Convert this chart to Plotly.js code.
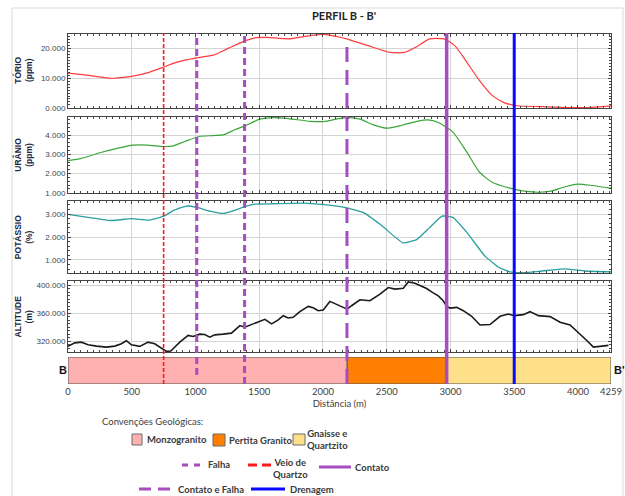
<!DOCTYPE html>
<html><head><meta charset="utf-8">
<script src="https://cdn.plot.ly/plotly-3.0.1.min.js"></script>
<style>html,body{margin:0;padding:0;background:#fff}</style>
</head><body><div id="chart" style="width:625px;height:496px"></div>
<script>
// ---- data ----
const thDist = [0,131,341,496,636,753,832,916,1011,1140,1252,1387,1477,1561,1729,1897,2009,2093,2186,2346,2528,2640,2738,2836,2948,3032,3130,3228,3327,3425,3523,3719,3915,4083,4259];
const thorium = [11.7,11.1,10.0,10.6,12.0,13.8,15.1,16.1,16.9,17.8,20.0,22.6,23.7,23.8,23.3,24.4,24.8,24.2,23.3,21.1,18.7,18.7,20.7,23.3,23.3,21.1,15.3,9.2,4.2,1.7,0.7,0.4,0.1,0.1,0.7];

const uDist = [0,103,243,384,510,622,753,818,916,1028,1140,1224,1308,1387,1505,1617,1729,1897,2009,2121,2205,2290,2402,2500,2626,2738,2822,2906,2968,3018,3130,3228,3327,3467,3579,3691,3789,3887,3999,4111,4259];
const uranium = [2.67,2.79,3.07,3.31,3.48,3.48,3.41,3.43,3.67,3.93,3.98,4.03,4.28,4.48,4.83,4.91,4.86,4.72,4.71,4.86,4.91,4.83,4.52,4.36,4.53,4.72,4.79,4.66,4.40,4.17,3.10,2.07,1.55,1.24,1.09,1.03,1.09,1.29,1.45,1.38,1.24];

const kDist = [0,131,341,496,636,753,832,930,1011,1112,1224,1308,1387,1463,1617,1841,2009,2177,2318,2458,2626,2738,2836,2934,3018,3130,3270,3383,3467,3579,3719,3887,4055,4259];
const potassium = [2.99,2.88,2.72,2.80,2.74,2.91,3.17,3.35,3.29,3.13,3.03,3.17,3.32,3.43,3.45,3.48,3.41,3.28,3.06,2.51,1.75,1.90,2.41,2.91,2.86,2.19,1.17,0.67,0.48,0.45,0.52,0.61,0.52,0.48];

const altDist = [0,53,105,157,223,301,367,419,458,497,563,628,680,733,772,806,877,942,981,1034,1073,1112,1151,1217,1282,1348,1387,1452,1505,1544,1597,1649,1688,1727,1766,1819,1884,1923,1962,2002,2054,2107,2159,2190,2224,2290,2368,2447,2512,2564,2630,2669,2721,2774,2813,2852,2904,2943,2970,2996,3049,3101,3166,3232,3310,3389,3454,3501,3571,3624,3689,3781,3860,3938,4016,4069,4121,4173,4239];
const altitude = [313,318,319,315.3,313.4,312,313.4,316.7,321,315.3,313,319,316.7,310.6,305.9,306.4,319,328.5,327,330.4,329.9,326.1,329.4,330.4,331.8,342.6,340.2,345,348.2,351.5,345,350.6,356.7,353.4,354.4,362.4,369.9,368,363.8,364.7,377,373,368.5,366,370.8,379.3,377.9,387.3,396.7,394.4,395.8,404.7,402.8,398.1,395.3,390.6,384.9,377.9,369.9,367.5,368.5,363.8,355.8,343.5,344,355.8,359.1,356.7,358.1,362.4,356.7,355.3,347.3,343.5,330.8,321.4,312,312.9,314.4];

const unitNames = ['Monzogranito','Pertita Granito','Gnaisse e Quartzito'];
const unitStart = [0, 2190, 2970];
const unitEnd = [2190, 2970, 4259];

const featureNames = ['Veio de Quartzo','Falha','Falha','Contato e Falha','Contato','Drenagem'];
const featureDist = [750, 1010, 1385, 2188, 2970, 3500];

const xTicks = [0,500,1000,1500,2000,2500,3000,3500,4000,4259];
const panelTitles = ['TÓRIO<br>(ppm)','URÂNIO<br>(ppm)','POTÁSSIO<br>(%)','ALTITUDE<br>(m)'];

// ---- styles ----
const unitColors = ['#ffb0b0','#ff8000','#ffe08a'];
const featureStyle = {
  'Veio de Quartzo': {color:'#ff1a1a', width:1.6, dash:'4px,2px'},
  'Falha': {color:'#a64dbf', width:3, dash:'7px,4px'},
  'Contato e Falha': {color:'#a64dbf', width:3, dash:'15px,8px'},
  'Contato': {color:'#a64dbf', width:3.5, dash:'solid'},
  'Drenagem': {color:'#0a0aff', width:3, dash:'solid'}
};
const W=625, H=496, ML=68, MR=14;
const px = p => (p-ML)/(W-ML-MR);
const py = p => 1 - p/H;
const panelPx = [[33.5,108],[116.5,193],[201,273.3],[281,352]];

const tickFont = {family:'Liberation Sans, Arial, sans-serif', size:8, color:'#3c4656'};
const titleFont = {family:'Liberation Sans, Arial, sans-serif', size:8.5, color:'#1c2742', weight:'bold'};

function xax(i, show){
  return {domain:[0,1], range:[0,4259], anchor:'y'+(i===1?'':i), matches: i===1?undefined:'x',
    showline:true, linecolor:'#444', linewidth:1, mirror:'allticks',
    ticks: show?'':'inside', ticklen:3, tickcolor:'#444', tickvals:xTicks,
    showticklabels:show, tickfont:tickFont, showgrid:!show, gridcolor:'#d4d4d4', gridwidth:1,
    minor: show?undefined:{ticks:'inside', dtick:50, ticklen:2, tickcolor:'#444', showgrid:false},
    zeroline:false, fixedrange:true};
}
function yax(i, rng, tv, mdt){
  const p = panelPx[i-1];
  return {domain:[py(p[1]),py(p[0])], range:rng, anchor:'x'+(i===1?'':i), tickvals:tv, tickformat:'.3f',
    showline:true, linecolor:'#444', linewidth:1, mirror:'allticks', ticks:'inside', ticklen:3, tickcolor:'#444',
    minor:{ticks:'inside', dtick:mdt, ticklen:2, tickcolor:'#444', showgrid:false},
    showgrid:true, gridcolor:'#d4d4d4', gridwidth:1, zeroline:false, tickfont:tickFont, fixedrange:true};
}

const traces = [
  {x:thDist, y:thorium, xaxis:'x', yaxis:'y', mode:'lines', line:{color:'#ff3b3b', width:1.2, shape:'spline', smoothing:0.6}},
  {x:uDist, y:uranium, xaxis:'x2', yaxis:'y2', mode:'lines', line:{color:'#3aa63a', width:1.2, shape:'spline', smoothing:0.6}},
  {x:kDist, y:potassium, xaxis:'x3', yaxis:'y3', mode:'lines', line:{color:'#2b9e9e', width:1.3, shape:'spline', smoothing:0.4}},
  {x:altDist, y:altitude, xaxis:'x4', yaxis:'y4', mode:'lines', line:{color:'#1a1a1a', width:1.6}},
  {type:'bar', orientation:'h', y:unitNames.map(()=>0), x:unitEnd.map((e,i)=>e-unitStart[i]), base:unitStart,
   width:1, xaxis:'x5', yaxis:'y5', marker:{color:unitColors, line:{color:'#555', width:1}}, hoverinfo:'skip'}
];

const shapes = [];
featureNames.forEach((n,i)=>{
  const s = featureStyle[n];
  let top = py(33), bot = py(384);
  if (n==='Contato e Falha') top = py(45);
  if (n==='Falha' && i===1) bot = py(375);
  shapes.push({type:'line', xref:'x', yref:'paper', x0:featureDist[i], x1:featureDist[i], y0:bot, y1:top,
    line:{color:s.color, width:s.width, dash:s.dash}});
});
// outer frame
shapes.push({type:'rect', xref:'paper', yref:'paper', x0:px(12), x1:px(623), y0:py(505), y1:py(8), line:{color:'#d9d9d9', width:1}, layer:'below'});

// legend
const legBoxes = [[132,142,434,445,unitColors[0]],[213,225,434,446,unitColors[1]],[293,305,434,445,unitColors[2]]];
legBoxes.forEach(b=>shapes.push({type:'rect', xref:'paper', yref:'paper', x0:px(b[0]), x1:px(b[1]), y0:py(b[3]), y1:py(b[2]), fillcolor:b[4], line:{color:'#6b6b6b', width:1}}));
const legLines = [
  ['Falha',182,200,465,'6px,6px'],
  ['Veio de Quartzo',248,271,465,'9px,5px'],
  ['Contato',319,351,467,'solid'],
  ['Contato e Falha',139,170,489,'12px,7px'],
  ['Drenagem',251,285,489,'solid']
];
legLines.forEach(l=>{
  const s = featureStyle[l[0]];
  shapes.push({type:'line', xref:'paper', yref:'paper', x0:px(l[1]), x1:px(l[2]), y0:py(l[3]), y1:py(l[3]),
    line:{color:s.color, width:3, dash:l[4]}});
});

const legFont = {family:'Lato, Open Sans, sans-serif', size:9.5, color:'#3a3a3a', weight:'bold'};
function ann(text, x, y, font, xanchor){
  return {text, x:px(x), y:py(y), xref:'paper', yref:'paper', showarrow:false, font, xanchor:xanchor||'left', yanchor:'middle', align: xanchor==='center'?'center':'left'};
}
const annotations = [
  ann("PERFIL B - B'", 344, 16, {family:'Lato, sans-serif', size:11, color:'#222', weight:'bold'}, 'center'),
  ann('B', 57, 370, {family:'Liberation Sans, Arial', size:11, color:'#111', weight:'bold'}),
  ann("B'", 612, 370, {family:'Liberation Sans, Arial', size:11, color:'#111', weight:'bold'}),
  ann('Convenções Geológicas:', 100, 421, {family:'Lato, sans-serif', size:9.5, color:'#404040'}),
  ann(unitNames[0], 145, 439, legFont),
  ann(unitNames[1], 227, 440, legFont),
  ann('Gnaisse e<br>Quartzito', 327, 439, legFont, 'center'),
  ann('Falha', 206, 464, legFont),
  ann('Veio de<br>Quartzo', 290, 468, legFont, 'center'),
  ann('Contato', 353, 467, legFont),
  ann('Contato e Falha', 176, 489, legFont),
  ann('Drenagem', 288, 489, legFont)
];
panelTitles.forEach((t,i)=>{
  const p = panelPx[i];
  annotations.push({text:t, x:px(23), y:py((p[0]+p[1])/2), xref:'paper', yref:'paper', showarrow:false,
    textangle:-90, font:titleFont, xanchor:'center', yanchor:'middle'});
});

const layout = {
  width:W, height:H, margin:{l:ML, r:MR, t:0, b:0}, showlegend:false,
  paper_bgcolor:'#fff', plot_bgcolor:'#fff',
  xaxis:xax(1,false), xaxis2:xax(2,false), xaxis3:xax(3,false), xaxis4:xax(4,false), xaxis5:xax(5,true),
  yaxis: yax(1,[-0.05,25.1],[0,10,20],1),
  yaxis2:yax(2,[0.99,4.97],[1,2,3,4],0.2),
  yaxis3:yax(3,[0.42,3.57],[1,2,3],0.2),
  yaxis4:yax(4,[305,406],[320,360,400],5),
  yaxis5:{domain:[py(384),py(357)], range:[-0.5,0.5], anchor:'x5', showticklabels:false, showgrid:false, zeroline:false, ticks:'', fixedrange:true},
  shapes, annotations
};
layout.xaxis5.title = {text:'Distância (m)', font:{family:'Lato, sans-serif', size:9.5, color:'#404040'}, standoff:4};
layout.xaxis5.tickfont = {family:'Lato, sans-serif', size:9.5, color:'#404040'};
layout.xaxis5.ticklen = 0;
layout.xaxis5.showline = false;
Plotly.newPlot('chart', traces, layout, {displayModeBar:false, staticPlot:true});
</script></body></html>
